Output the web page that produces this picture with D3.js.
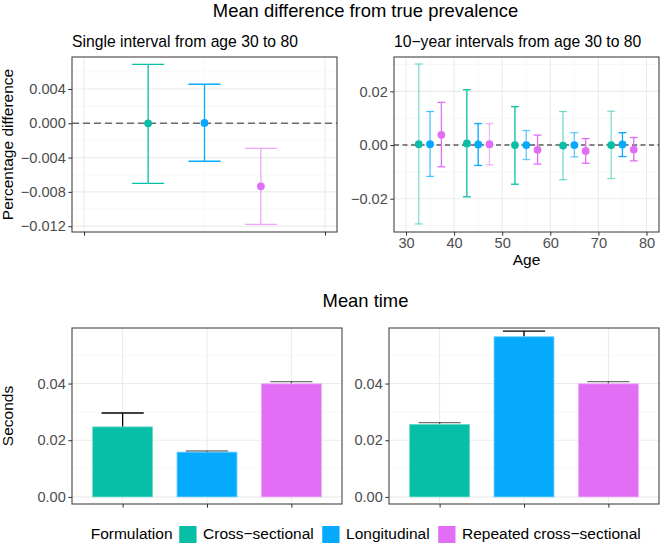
<!DOCTYPE html>
<html>
<head>
<meta charset="utf-8">
<script src="https://cdn.jsdelivr.net/npm/d3@7"></script>
<style>
body { margin: 0; background: #fff; }
svg { display: block; font-family: "Liberation Sans", Arial, sans-serif; }
</style>
</head>
<body>
<svg id="chart" width="660" height="543"></svg>
<script>
// ---- data ----
var formulations = ["Cross\u2212sectional", "Longitudinal", "Repeated cross\u2212sectional"];
var colors = ["#06BFA6", "#05A9FE", "#E16EF5"];

// single interval 30-80: mean difference and interval
var singleMean = [0.00000, 0.00004, -0.00735];
var singleLower = [-0.00700, -0.00443, -0.01178];
var singleUpper = [0.00688, 0.00455, -0.00292];
var singleAlpha = [1, 1, 0.6];

// 10-year intervals: one row per formulation
var ageMid = [35, 45, 55, 65, 75];
var tenMean = [
    [0.0003, 0.0006, 0.0000, -0.0002, 0.0000],
    [0.0003, 0.0002, 0.0000, 0.0000, 0.0002],
    [0.0038, 0.0003, -0.0018, -0.0022, -0.0017]
];
var tenUpper = [
    [0.0302, 0.0206, 0.0143, 0.0125, 0.0126],
    [0.0125, 0.0080, 0.0054, 0.0046, 0.0046],
    [0.0159, 0.0080, 0.0037, 0.0024, 0.0028]
];
var tenLower = [
    [-0.0294, -0.0193, -0.0146, -0.0129, -0.0125],
    [-0.0117, -0.0076, -0.0054, -0.0044, -0.0043],
    [-0.0081, -0.0074, -0.0071, -0.0068, -0.0059]
];
var tenAlpha = [
    [0.5, 1, 1, 0.55, 0.5],
    [0.7, 1, 0.6, 0.6, 1],
    [1, 0.5, 1, 1, 1]
];

// mean time (seconds)
var timeSingle = [0.0247, 0.0158, 0.0399];
var timeSingleUpper = [0.0296, 0.0162, 0.0407];
var timeSingleAlpha = [1, 0.55, 0.55];
var timeTen = [0.0256, 0.0565, 0.0399];
var timeTenUpper = [0.0262, 0.0585, 0.0407];
var timeTenAlpha = [0.55, 1, 0.55];

var ticksDiffSingle = [-0.012, -0.008, -0.004, 0, 0.004];
var minorDiffSingle = [-0.010, -0.006, -0.002, 0.002, 0.006];
var ticksDiffTen = [-0.02, 0, 0.02];
var minorDiffTen = [-0.03, -0.01, 0.01, 0.03];
var ticksAge = [30, 40, 50, 60, 70, 80];
var minorAge = [35, 45, 55, 65, 75];
var ticksTime = [0, 0.02, 0.04];
var minorTime = [0.01, 0.03, 0.05];

// ---- drawing ----
var svg = d3.select("#chart");
var tickColor = "#4D4D4D";

function grid(g, p, x, y, xMajor, xMinor, yMajor, yMinor) {
    g.selectAll(".gy-min").data(yMinor).enter().append("line")
        .attr("x1", p.left).attr("x2", p.right)
        .attr("y1", function (d) { return y(d); }).attr("y2", function (d) { return y(d); })
        .attr("stroke", "#F3F3F3").attr("stroke-width", 0.7);
    g.selectAll(".gx-min").data(xMinor).enter().append("line")
        .attr("y1", p.top).attr("y2", p.bottom)
        .attr("x1", function (d) { return x(d); }).attr("x2", function (d) { return x(d); })
        .attr("stroke", "#F3F3F3").attr("stroke-width", 0.7);
    g.selectAll(".gy").data(yMajor).enter().append("line")
        .attr("x1", p.left).attr("x2", p.right)
        .attr("y1", function (d) { return y(d); }).attr("y2", function (d) { return y(d); })
        .attr("stroke", "#EBEBEB").attr("stroke-width", 1.1);
    g.selectAll(".gx").data(xMajor).enter().append("line")
        .attr("y1", p.top).attr("y2", p.bottom)
        .attr("x1", function (d) { return x(d); }).attr("x2", function (d) { return x(d); })
        .attr("stroke", "#EBEBEB").attr("stroke-width", 1.1);
}

function border(g, p) {
    g.append("rect")
        .attr("x", p.left).attr("y", p.top)
        .attr("width", p.right - p.left).attr("height", p.bottom - p.top)
        .attr("fill", "none").attr("stroke", "#444").attr("stroke-width", 1.1);
}

function styleAxis(a) {
    a.select(".domain").remove();
    a.selectAll(".tick line").attr("stroke", "#333").attr("stroke-width", 1);
    a.selectAll(".tick text").attr("fill", tickColor).attr("font-size", 14.6)
        .attr("font-family", "Liberation Sans, Arial, sans-serif");
}

// panel layouts
var pA = {left: 72, right: 337, top: 57, bottom: 232};
var pB = {left: 394, right: 659, top: 57, bottom: 232};
var pC = {left: 72, right: 342, top: 328, bottom: 504};
var pD = {left: 389, right: 659, top: 328, bottom: 504};

// ---- panel A: single interval ----
var xA = d3.scaleLinear().domain([-0.05, 1.05]).range([pA.left, pA.right]);
var yA = d3.scaleLinear().domain([-0.01268, 0.00773]).range([pA.bottom, pA.top]);
var gA = svg.append("g");
grid(gA, pA, xA, yA, [0, 1], [0.5], ticksDiffSingle, minorDiffSingle);
var dodgeA = 0.234;
var capA = 0.0665;

gA.append("line")
    .attr("x1", pA.left).attr("x2", pA.right)
    .attr("y1", yA(0)).attr("y2", yA(0))
    .attr("stroke", "#6B6B6B").attr("stroke-width", 1.5).attr("stroke-dasharray", "7,4");

var single = formulations.map(function (f, i) {
    return {i: i, x: 0.5 + (i - 1) * dodgeA, m: singleMean[i], lo: singleLower[i], hi: singleUpper[i], a: singleAlpha[i]};
});
var eA = gA.selectAll(".eb").data(single).enter().append("g")
    .attr("stroke", function (d) { return colors[d.i]; })
    .attr("stroke-opacity", function (d) { return d.a; })
    .attr("stroke-width", 1.3);
eA.append("line")
    .attr("x1", function (d) { return xA(d.x); }).attr("x2", function (d) { return xA(d.x); })
    .attr("y1", function (d) { return yA(d.lo); }).attr("y2", function (d) { return yA(d.hi); });
eA.append("line")
    .attr("x1", function (d) { return xA(d.x - capA); }).attr("x2", function (d) { return xA(d.x + capA); })
    .attr("y1", function (d) { return yA(d.hi); }).attr("y2", function (d) { return yA(d.hi); });
eA.append("line")
    .attr("x1", function (d) { return xA(d.x - capA); }).attr("x2", function (d) { return xA(d.x + capA); })
    .attr("y1", function (d) { return yA(d.lo); }).attr("y2", function (d) { return yA(d.lo); });
gA.selectAll(".pt").data(single).enter().append("circle")
    .attr("cx", function (d) { return xA(d.x); })
    .attr("cy", function (d) { return yA(d.m); })
    .attr("r", 3.9)
    .attr("fill", function (d) { return colors[d.i]; });
border(gA, pA);

var axA = svg.append("g").attr("transform", "translate(" + pA.left + ",0)")
    .call(d3.axisLeft(yA).tickValues(ticksDiffSingle).tickSize(3.7).tickPadding(2.5).tickFormat(d3.format(".3f")));
styleAxis(axA);
var axAx = svg.append("g").attr("transform", "translate(0," + pA.bottom + ")")
    .call(d3.axisBottom(xA).tickValues([0, 1]).tickSize(3.7).tickFormat(""));
styleAxis(axAx);

// ---- panel B: 10-year intervals ----
var xB = d3.scaleLinear().domain([27.5, 82.6]).range([pB.left, pB.right]);
var yB = d3.scaleLinear().domain([-0.0324, 0.0328]).range([pB.bottom, pB.top]);
var gB = svg.append("g");
grid(gB, pB, xB, yB, ticksAge, minorAge, ticksDiffTen, minorDiffTen);
var dodgeB = 2.35;
var capB = 0.82;

gB.append("line")
    .attr("x1", pB.left).attr("x2", pB.right)
    .attr("y1", yB(0)).attr("y2", yB(0))
    .attr("stroke", "#111").attr("stroke-width", 1.1).attr("stroke-dasharray", "5,3.5");

var ten = [];
formulations.forEach(function (f, i) {
    ageMid.forEach(function (a, j) {
        ten.push({i: i, x: a + (i - 1) * dodgeB, m: tenMean[i][j], lo: tenLower[i][j], hi: tenUpper[i][j], a: tenAlpha[i][j]});
    });
});
var eB = gB.selectAll(".eb").data(ten).enter().append("g")
    .attr("stroke", function (d) { return colors[d.i]; })
    .attr("stroke-opacity", function (d) { return d.a; })
    .attr("stroke-width", 1.3);
eB.append("line")
    .attr("x1", function (d) { return xB(d.x); }).attr("x2", function (d) { return xB(d.x); })
    .attr("y1", function (d) { return yB(d.lo); }).attr("y2", function (d) { return yB(d.hi); });
eB.append("line")
    .attr("x1", function (d) { return xB(d.x - capB); }).attr("x2", function (d) { return xB(d.x + capB); })
    .attr("y1", function (d) { return yB(d.hi); }).attr("y2", function (d) { return yB(d.hi); });
eB.append("line")
    .attr("x1", function (d) { return xB(d.x - capB); }).attr("x2", function (d) { return xB(d.x + capB); })
    .attr("y1", function (d) { return yB(d.lo); }).attr("y2", function (d) { return yB(d.lo); });
gB.selectAll(".pt").data(ten).enter().append("circle")
    .attr("cx", function (d) { return xB(d.x); })
    .attr("cy", function (d) { return yB(d.m); })
    .attr("r", 3.9)
    .attr("fill", function (d) { return colors[d.i]; });
border(gB, pB);

var axB = svg.append("g").attr("transform", "translate(" + pB.left + ",0)")
    .call(d3.axisLeft(yB).tickValues(ticksDiffTen).tickSize(3.7).tickPadding(2.5).tickFormat(d3.format(".2f")));
styleAxis(axB);
var axBx = svg.append("g").attr("transform", "translate(0," + pB.bottom + ")")
    .call(d3.axisBottom(xB).tickValues(ticksAge).tickSize(3.7).tickPadding(2));
styleAxis(axBx);

// ---- panels C and D: mean time ----
function timePanel(p, values, upper, alpha) {
    var x = d3.scalePoint().domain(formulations).range([p.left, p.right]).padding(0.6);
    var y = d3.scaleLinear().domain([-0.0025, 0.0596]).range([p.bottom, p.top]);
    var g = svg.append("g");
    grid(g, p, x, y, formulations, [], ticksTime, minorTime);
    var step = x.step();
    var rows = formulations.map(function (f, i) {
        return {f: f, i: i, v: values[i], hi: upper[i], a: alpha[i]};
    });
    var eb = g.selectAll(".eb").data(rows).enter().append("g")
        .attr("stroke", "#000")
        .attr("stroke-opacity", function (d) { return d.a; })
        .attr("stroke-width", 1.3);
    eb.append("line")
        .attr("x1", function (d) { return x(d.f); }).attr("x2", function (d) { return x(d.f); })
        .attr("y1", function (d) { return y(d.v); }).attr("y2", function (d) { return y(d.hi); });
    eb.append("line")
        .attr("x1", function (d) { return x(d.f) - step * 0.25; }).attr("x2", function (d) { return x(d.f) + step * 0.25; })
        .attr("y1", function (d) { return y(d.hi); }).attr("y2", function (d) { return y(d.hi); });
    g.selectAll(".bar").data(rows).enter().append("rect")
        .attr("x", function (d) { return x(d.f) - step * 0.355; })
        .attr("width", step * 0.71)
        .attr("y", function (d) { return y(d.v); })
        .attr("height", function (d) { return y(0) - y(d.v); })
        .attr("fill", function (d) { return colors[d.i]; })
        .attr("stroke", function (d) { return d3.interpolateRgb(colors[d.i], "#fff")(0.4); })
        .attr("stroke-width", 0.8);
    border(g, p);
    var ay = svg.append("g").attr("transform", "translate(" + p.left + ",0)")
        .call(d3.axisLeft(y).tickValues(ticksTime).tickSize(3.7).tickPadding(2.5).tickFormat(d3.format(".2f")));
    styleAxis(ay);
    var ax = svg.append("g").attr("transform", "translate(0," + p.bottom + ")")
        .call(d3.axisBottom(x).tickSize(3.7).tickFormat(""));
    styleAxis(ax);
}
timePanel(pC, timeSingle, timeSingleUpper, timeSingleAlpha);
timePanel(pD, timeTen, timeTenUpper, timeTenAlpha);

// ---- titles ----
svg.append("text").attr("x", 365.5).attr("y", 16.5).attr("text-anchor", "middle")
    .attr("font-size", 18.4).text("Mean difference from true prevalence");
svg.append("text").attr("x", 365.5).attr("y", 307).attr("text-anchor", "middle")
    .attr("font-size", 18.4).text("Mean time");
svg.append("text").attr("x", pA.left).attr("y", 47)
    .attr("font-size", 15.7).text("Single interval from age 30 to 80");
svg.append("text").attr("x", pB.left).attr("y", 47)
    .attr("font-size", 15.7).text("10\u2212year intervals from age 30 to 80");
svg.append("text").attr("transform", "translate(12.5," + (pA.top + pA.bottom) / 2 + ") rotate(-90)")
    .attr("text-anchor", "middle").attr("font-size", 15.5).text("Percentage difference");
svg.append("text").attr("transform", "translate(12.5," + (pC.top + pC.bottom) / 2 + ") rotate(-90)")
    .attr("text-anchor", "middle").attr("font-size", 15.5).text("Seconds");
svg.append("text").attr("x", (pB.left + pB.right) / 2).attr("y", 265)
    .attr("text-anchor", "middle").attr("font-size", 15.5).text("Age");

// ---- legend ----
var leg = svg.append("g");
var lx = 90.7;
var ly = 538.5;
var t0 = leg.append("text").attr("x", lx).attr("y", ly).attr("font-size", 15.5).text("Formulation");
lx += t0.node().getComputedTextLength() + 6.7;
formulations.forEach(function (f, i) {
    leg.append("rect").attr("x", lx).attr("y", 526).attr("width", 17.3).attr("height", 17.3)
        .attr("fill", colors[i]);
    lx += 17.3 + 6.5;
    var t = leg.append("text").attr("x", lx).attr("y", ly).attr("font-size", 15.5).text(f);
    lx += t.node().getComputedTextLength() + 8.5;
});
</script>
</body>
</html>
